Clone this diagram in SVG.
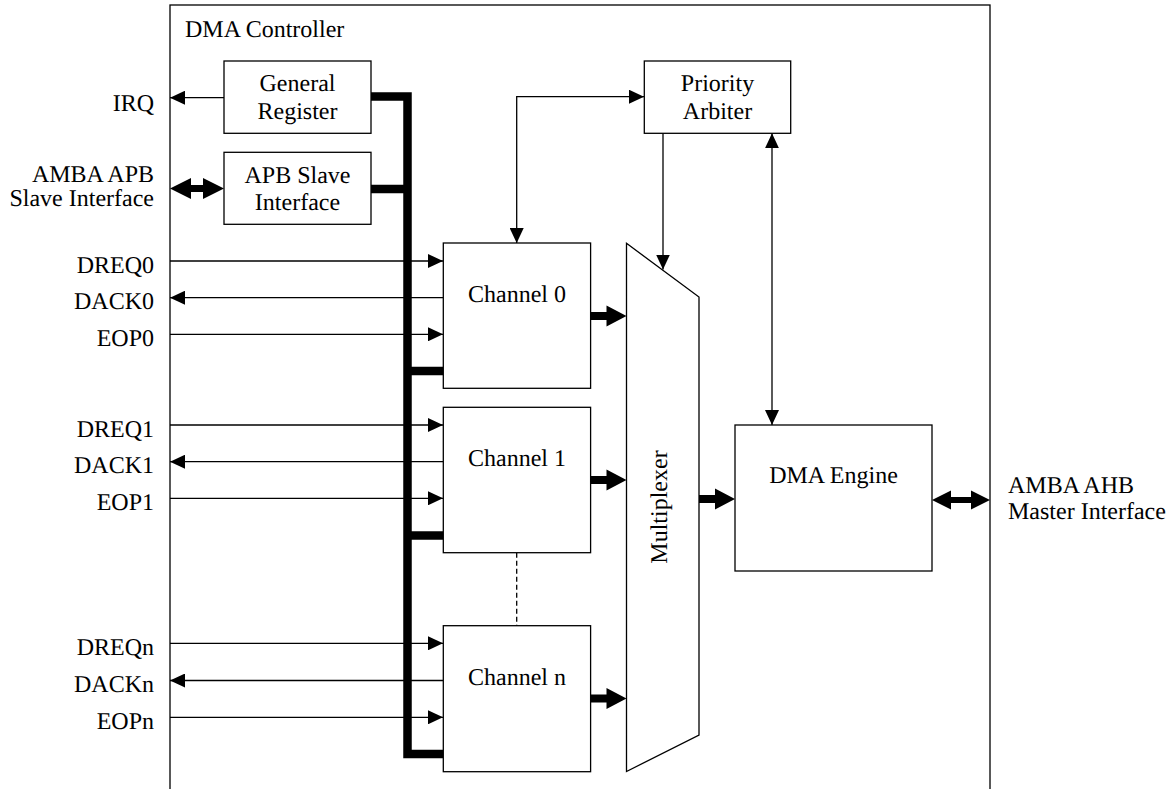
<svg xmlns="http://www.w3.org/2000/svg" width="1166" height="789" viewBox="0 0 1166 789">
  <style>
    text { font-family: 'Liberation Serif', Tinos, 'Times New Roman', serif; font-size: 24px; fill: #000; text-rendering: geometricPrecision; }
    .mid { text-anchor: middle; }
    .end { text-anchor: end; }
    .box { fill: #fff; stroke: #000; stroke-width: 1.3; }
    .frame { fill: none; stroke: #000; stroke-width: 1.3; }
    .sig { fill: none; stroke: #000; stroke-width: 1.3; }
    .dash { fill: none; stroke: #000; stroke-width: 1.3; stroke-dasharray: 5 3; }
    .bus { fill: none; stroke: #000; stroke-width: 8.5; stroke-linejoin: miter; stroke-linecap: butt; }
    .fat { fill: #000; stroke: none; }
  </style>
  <defs>
    <!-- thin arrowhead used on all single-line signals -->
    <marker id="ah" markerUnits="userSpaceOnUse" viewBox="0 0 15 14" markerWidth="15" markerHeight="14" refX="15" refY="7" orient="auto-start-reverse">
      <path d="M0,0 L15,7 L0,14 Z" fill="#000"/>
    </marker>
    <!-- wide data arrow, tip at the origin, pointing right -->
    <path id="fatR" d="M-36,-4 H-20 V-10.5 L0,0 L-20,10.5 V4 H-36 Z"/>
  </defs>

  <rect x="0" y="0" width="1166" height="789" fill="#fff"/>

  <!-- controller boundary -->
  <g id="dma-controller">
    <rect class="frame" x="170" y="5" width="820" height="820"/>
    <text x="185" y="37">DMA Controller</text>
  </g>

  <g id="connectors">
    <!-- register bus -->
    <polyline class="bus" points="371,96.5 407.5,96.5 407.5,754 443,754"/>
    <line class="bus" x1="371" y1="189" x2="407.5" y2="189"/>
    <line class="bus" x1="407.5" y1="371" x2="443" y2="371"/>
    <line class="bus" x1="407.5" y1="535.5" x2="443" y2="535.5"/>

    <!-- interrupt -->
    <path class="sig" d="M224,97.7 H170" marker-end="url(#ah)"/>
    <!-- APB slave port -->
    <path class="fat" d="M170,188.5 L191,178 V185 H203 V178 L224,188.5 L203,199 V192 H191 V199 Z"/>

    <!-- channel 0 handshake -->
    <path class="sig" d="M170,261 H443" marker-end="url(#ah)"/>
    <path class="sig" d="M443,297.7 H170" marker-end="url(#ah)"/>
    <path class="sig" d="M170,334.3 H443" marker-end="url(#ah)"/>
    <!-- channel 1 handshake -->
    <path class="sig" d="M170,425 H443" marker-end="url(#ah)"/>
    <path class="sig" d="M443,461.7 H170" marker-end="url(#ah)"/>
    <path class="sig" d="M170,498.3 H443" marker-end="url(#ah)"/>
    <!-- channel n handshake -->
    <path class="sig" d="M170,643.3 H443" marker-end="url(#ah)"/>
    <path class="sig" d="M443,680.5 H170" marker-end="url(#ah)"/>
    <path class="sig" d="M170,717.3 H443" marker-end="url(#ah)"/>

    <!-- arbitration -->
    <path class="sig" d="M516.7,243 V96.7 H644" marker-start="url(#ah)" marker-end="url(#ah)"/>
    <path class="sig" d="M663,133.3 V269.5" marker-end="url(#ah)"/>
    <path class="sig" d="M772,133.3 V425" marker-start="url(#ah)" marker-end="url(#ah)"/>

    <!-- channels to multiplexer -->
    <use href="#fatR" class="fat" x="626.5" y="316"/>
    <use href="#fatR" class="fat" x="626.5" y="480"/>
    <use href="#fatR" class="fat" x="626.5" y="698.5"/>
    <!-- multiplexer to engine -->
    <use href="#fatR" class="fat" x="735" y="499"/>
    <!-- AHB master port -->
    <path class="fat" d="M932,500 L951,490.5 V497 H971 V490.5 L990,500 L971,509.5 V503 H951 V509.5 Z"/>

    <!-- further channels -->
    <path class="dash" d="M516.7,552.7 V625.7"/>
  </g>

  <!-- external port labels -->
  <g id="labels">
    <text class="end" x="154" y="111">IRQ</text>
    <text class="end" x="154" y="182">AMBA APB</text>
    <text class="end" x="154" y="205.5">Slave Interface</text>
    <text class="end" x="154" y="272.5">DREQ0</text>
    <text class="end" x="154" y="309">DACK0</text>
    <text class="end" x="154" y="345.8">EOP0</text>
    <text class="end" x="154" y="436.5">DREQ1</text>
    <text class="end" x="154" y="473.2">DACK1</text>
    <text class="end" x="154" y="509.8">EOP1</text>
    <text class="end" x="154" y="654.8">DREQn</text>
    <text class="end" x="154" y="692">DACKn</text>
    <text class="end" x="154" y="728.8">EOPn</text>
    <text x="1008" y="492.7">AMBA AHB</text>
    <text x="1008" y="519">Master Interface</text>
  </g>

  <g id="general-register">
    <rect class="box" x="224" y="61" width="147" height="72.3"/>
    <text class="mid" x="297.5" y="90.5">General</text>
    <text class="mid" x="297.5" y="119">Register</text>
  </g>

  <g id="apb-slave-interface">
    <rect class="box" x="224" y="152.3" width="147" height="72"/>
    <text class="mid" x="297.5" y="182.7">APB Slave</text>
    <text class="mid" x="297.5" y="210">Interface</text>
  </g>

  <g id="priority-arbiter">
    <rect class="box" x="644.3" y="61" width="146.4" height="72.3"/>
    <text class="mid" x="717.5" y="91">Priority</text>
    <text class="mid" x="717.5" y="119">Arbiter</text>
  </g>

  <g id="channel-0">
    <rect class="box" x="443.3" y="243" width="147.3" height="145.3"/>
    <text class="mid" x="517" y="301.7">Channel 0</text>
  </g>

  <g id="channel-1">
    <rect class="box" x="443.3" y="407.3" width="147.3" height="145.4"/>
    <text class="mid" x="517" y="466">Channel 1</text>
  </g>

  <g id="channel-n">
    <rect class="box" x="443.3" y="625.7" width="147.3" height="146"/>
    <text class="mid" x="517" y="684.6">Channel n</text>
  </g>

  <g id="multiplexer">
    <polygon class="box" points="626.5,243.3 699,297 699,735 626.5,771.5"/>
    <text class="mid" transform="translate(667,507) rotate(-90)">Multiplexer</text>
  </g>

  <g id="dma-engine">
    <rect class="box" x="735" y="425" width="197" height="146"/>
    <text class="mid" x="833.5" y="483">DMA Engine</text>
  </g>
</svg>
